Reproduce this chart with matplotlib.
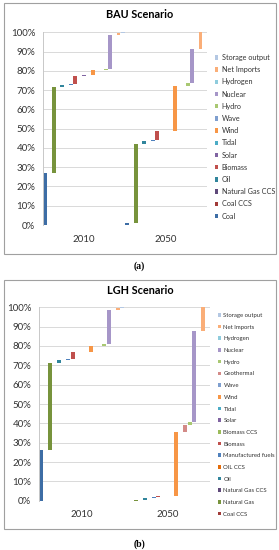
#!/usr/bin/env python3
"""Waterfall charts of electricity supply shares, BAU and LGH scenarios."""

import matplotlib
matplotlib.use('Agg')
import matplotlib.pyplot as plt
from matplotlib.patches import Patch, Rectangle
from matplotlib.ticker import PercentFormatter

W, H = 279, 550

fuels = [
    'Coal', 'Coal CCS', 'Natural Gas', 'Natural Gas CCS', 'Oil', 'OIL CCS',
    'Manufactured fuels', 'Biomass', 'Biomass CCS', 'Solar', 'Tidal', 'Wind',
    'Wave', 'Geothermal', 'Hydro', 'Nuclear', 'Hydrogen', 'Net Imports',
    'Storage output',
]
years = ['2010', '2050']

# share of supply (%) per fuel, in the same order as `fuels`
bau_2010 = [26.8, 0, 44.8, 0, 1.0, 0, 0.8, 4.0, 0, 0.2, 0, 2.8, 0, 0, 0.7, 17.6, 0, 0.7, 0.6]
bau_2050 = [0.8, 0, 41.0, 0, 1.6, 0, 0.8, 4.4, 0, 0.3, 0, 23.1, 0, 0, 1.5, 17.6, 0, 8.9, 0]
lgh_2010 = [26.2, 0, 44.8, 0, 1.5, 0, 0.8, 3.6, 0, 0.2, 0, 2.9, 0, 0, 0.9, 17.7, 0, 0.9, 0.5]
lgh_2050 = [0, 0, 0.5, 0, 0.8, 0, 0.4, 0.6, 0, 0.2, 0, 33.2, 0, 3.2, 2.0, 46.9, 0, 12.2, 0]

bau_legend = [
    'Storage output', 'Net Imports', 'Hydrogen', 'Nuclear', 'Hydro', 'Wave',
    'Wind', 'Tidal', 'Solar', 'Biomass', 'Oil', 'Natural Gas CCS', 'Coal CCS',
    'Coal',
]
lgh_legend = [
    'Storage output', 'Net Imports', 'Hydrogen', 'Nuclear', 'Hydro',
    'Geothermal', 'Wave', 'Wind', 'Tidal', 'Solar', 'Biomass CCS', 'Biomass',
    'Manufactured fuels', 'OIL CCS', 'Oil', 'Natural Gas CCS', 'Natural Gas',
    'Coal CCS',
]

colors = {
    'Coal': '#3D6DA5',
    'Coal CCS': '#A13B38',
    'Natural Gas': '#77933C',
    'Natural Gas CCS': '#5F497A',
    'Oil': '#31859C',
    'OIL CCS': '#E46C0A',
    'Manufactured fuels': '#4F81BD',
    'Biomass': '#C0504D',
    'Biomass CCS': '#9BBB59',
    'Solar': '#8064A2',
    'Tidal': '#4BACC6',
    'Wind': '#F79646',
    'Wave': '#7F9FCF',
    'Geothermal': '#D38A87',
    'Hydro': '#A9C872',
    'Nuclear': '#A696C8',
    'Hydrogen': '#8FCCDD',
    'Net Imports': '#FAAE78',
    'Storage output': '#B4C8E3',
}

plt.rcParams['font.family'] = ['Lato', 'DejaVu Sans']
TEXT = '#333333'


def px_rect(x0, y0, x1, y1):
    """Pixel box (top-left origin) to figure fraction rect."""
    return [x0 / W, 1 - y1 / H, (x1 - x0) / W, (y1 - y0) / H]


def draw_panel(fig, box, plot, title, title_y, data, legend_names,
               legend_xy, legend_fs, legend_spacing):
    # grey frame round the chart
    x0, y0, x1, y1 = box
    fig.add_artist(Rectangle((x0 / W, 1 - y1 / H), (x1 - x0) / W, (y1 - y0) / H,
                             transform=fig.transFigure, fill=False,
                             edgecolor='#A0A0A0', linewidth=0.8))
    fig.text(140 / W, 1 - title_y / H, title, ha='center', va='center',
             fontsize=7.8, fontweight='bold', color='black')

    ax = fig.add_axes(px_rect(*plot))
    n = len(fuels)
    for g, values in enumerate(data):
        bottom = 0.0
        for k, fuel in enumerate(fuels):
            v = values[k] / 100
            if v > 0:
                ax.bar(g * n + k + 0.5, v, bottom=bottom, width=0.9,
                       color=colors[fuel], linewidth=0)
            bottom += v

    ax.set_xlim(0, 2 * n)
    ax.set_ylim(0, 1)
    ax.set_yticks([i / 10 for i in range(11)])
    ax.yaxis.set_major_formatter(PercentFormatter(1.0, decimals=0))
    ax.set_xticks([n / 2, n * 1.5])
    ax.set_xticklabels(years)
    ax.tick_params(axis='y', length=0, pad=5.5, labelsize=7, labelcolor=TEXT)
    ax.tick_params(axis='x', length=0, pad=7, labelsize=7, labelcolor=TEXT)
    ax.grid(axis='y', color='#D9D9D9', linewidth=0.7)
    ax.set_axisbelow(True)
    for side in ['top', 'right', 'bottom']:
        ax.spines[side].set_visible(False)
    ax.spines['left'].set_color('#C8C8C8')
    ax.spines['left'].set_linewidth(0.7)

    handles = [Patch(facecolor=colors[name], label=name) for name in legend_names]
    fig.legend(handles=handles, loc='upper left',
               bbox_to_anchor=(legend_xy[0] / W, 1 - legend_xy[1] / H),
               frameon=False, fontsize=legend_fs, handlelength=0.55,
               handleheight=0.55, handletextpad=0.45, labelspacing=legend_spacing,
               borderpad=0, borderaxespad=0, labelcolor=TEXT)
    return ax


fig = plt.figure(figsize=(W / 100, H / 100), dpi=100)

draw_panel(fig, (4, 3, 276, 254), (43, 32.3, 207, 225), 'BAU Scenario', 15,
           [bau_2010, bau_2050], bau_legend, (214.5, 54), 5.2, 0.72)
draw_panel(fig, (4, 280, 276, 529), (39, 307.3, 210, 500.7), 'LGH Scenario', 290,
           [lgh_2010, lgh_2050], lgh_legend, (217.5, 313), 4.3, 1.12)

fig.text(139.5 / W, 1 - 266 / H, '(a)', ha='center', va='center', fontsize=7,
         fontweight='bold', family='Liberation Serif', color='black')
fig.text(139.5 / W, 1 - 544 / H, '(b)', ha='center', va='center', fontsize=7,
         fontweight='bold', family='Liberation Serif', color='black')

fig.savefig('out.png', dpi=100, facecolor='white')
